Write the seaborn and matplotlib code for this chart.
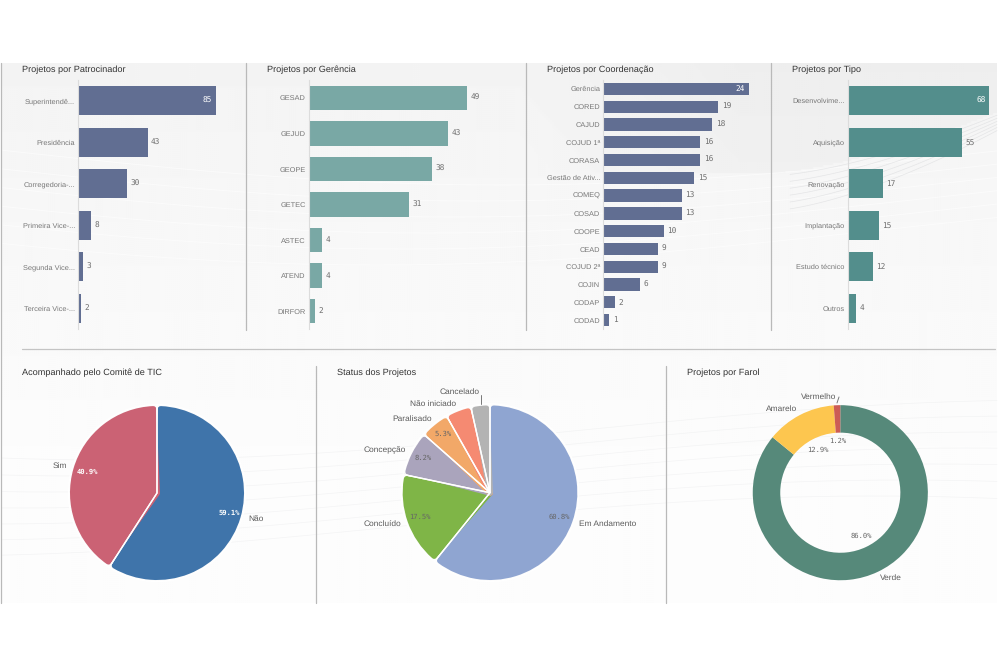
#!/usr/bin/env python3
"""Painel de projetos: barras por patrocinador/gerencia/coordenacao/tipo e pizzas de status."""

import numpy as np
import matplotlib.pyplot as plt
from matplotlib.patches import Wedge
import seaborn as sns

sns.set_theme(style="white")
plt.rcParams['font.family'] = ['Liberation Sans', 'DejaVu Sans']
plt.rcParams['text.hinting'] = 'none'

W, H = 1000, 667

patroc_cats = ['Superintendê...', 'Presidência', 'Corregedoria-...', 'Primeira Vice-...', 'Segunda Vice...', 'Terceira Vice-...']
patroc_vals = [85, 43, 30, 8, 3, 2]
geren_cats = ['GESAD', 'GEJUD', 'GEOPE', 'GETEC', 'ASTEC', 'ATEND', 'DIRFOR']
geren_vals = [49, 43, 38, 31, 4, 4, 2]
coord_cats = ['Gerência', 'CORED', 'CAJUD', 'COJUD 1ª', 'CORASA', 'Gestão de Ativ...', 'COMEQ',
              'COSAD', 'COOPE', 'CEAD', 'COJUD 2ª', 'COJIN', 'CODAP', 'CODAD']
coord_vals = [24, 19, 18, 16, 16, 15, 13, 13, 10, 9, 9, 6, 2, 1]
tipo_cats = ['Desenvolvime...', 'Aquisição', 'Renovação', 'Implantação', 'Estudo técnico', 'Outros']
tipo_vals = [68, 55, 17, 15, 12, 4]

comite_vals = [59.1, 40.9]
comite_colors = ['#3f74aa', '#cb6274']
status_vals = [60.8, 17.5, 8.2, 5.3, 4.7, 3.5]
status_colors = ['#8fa5d1', '#7fb547', '#aaa4bc', '#f2a868', '#f58a72', '#b3b3b3']
farol_vals = [86.0, 12.9, 1.2]
farol_colors = ['#56897a', '#fdc64f', '#cc5c55']


def rect(x0, y0, x1, y1):
    """Retangulo em pixels (origem no topo) para coordenadas da figura."""
    return [x0 / W, 1 - y1 / H, (x1 - x0) / W, (y1 - y0) / H]


def plot_bars(fig, cats, vals, color, x0, x1, inside=True):
    ax = fig.add_axes(rect(x0, 80, x1, 329))
    ax.patch.set_alpha(0)
    sns.barplot(y=cats, x=vals, color=color, saturation=1, width=0.69, orient='h', linewidth=0, ax=ax)
    ax.set_xlim(0, max(vals))
    ax.set_ylim(len(vals) - 0.5, -0.5)
    ax.set_xlabel('')
    ax.set_ylabel('')
    ax.set_xticks([])
    ax.tick_params(axis='y', length=0, pad=2.2, labelsize=5.3, labelcolor='#777777')
    sns.despine(ax=ax, bottom=True)
    ax.spines['left'].set_color('#dcdcdc')
    ax.spines['left'].set_linewidth(0.8)
    labels = ax.bar_label(ax.containers[0], labels=[str(v) for v in vals], padding=2.5,
                          fontsize=5.6, color='#707070', family='DejaVu Sans Mono')
    if inside:
        # o maior valor fica dentro da barra
        labels[0].set_color('white')
        labels[0].set_ha('right')
        labels[0].xyann = (-2.5, 0)
    return ax


def plot_pie(fig, vals, colors, cx, cy, r):
    """Pizza com cantos externos arredondados."""
    ax = fig.add_axes(rect(cx - r - 2, cy - r - 2, cx + r + 2, cy + r + 2))
    ax.patch.set_alpha(0)
    wedges, _ = ax.pie(vals, colors=colors, startangle=90, counterclock=False, radius=r)
    ax.set_xlim(-r - 2, r + 2)
    ax.set_ylim(-r - 2, r + 2)
    c = 3.0
    for w in wedges:
        t1, t2 = w.theta1, w.theta2
        d = np.degrees((c + 0.8) / r)
        clip = Wedge((0, 0), r, t1, t2, transform=ax.transData)
        w.set_radius(r - c)
        w.set_theta1(t1 + d)
        w.set_theta2(t2 - d)
        w.set_edgecolor(w.get_facecolor())
        w.set_linewidth(2 * c * 0.72)
        w.set_joinstyle('round')
        w.set_clip_path(clip)
        ax.add_patch(Wedge((0, 0), r + 1.5, t1, t2, fc='none', ec='white', lw=1.0))
    return ax


fig = plt.figure(figsize=(W / 100, H / 100), dpi=100)

# fundo cinza claro com as ondas suaves do painel
bg = fig.add_axes([0, 0, 1, 1], zorder=-5)
gx, gy = np.meshgrid(np.arange(2, 997, 2.0), np.arange(63, 603, 2.0))
shade = 0.955 + 0.035 * np.clip((gy - 63) / 400, 0, 1)
curve = 172 - 62 * (np.clip(gx - 770, 0, None) / 230) ** 1.5
fade = np.clip((gx - 520) / 220, 0, 1)
shade = shade - 0.022 * fade * (gy < curve)
bg.imshow(shade, extent=[2, 997, 603, 63], cmap='gray', vmin=0, vmax=1, aspect='auto', zorder=0)
bx = np.linspace(2, 997, 200)
for k in range(6):
    bg.plot(bx, 150 + k * 16 + 35 * np.sin((bx + k * 25) / 320), color='white', lw=0.7, alpha=0.55, zorder=2)
for k in range(7):
    bg.plot(bx, 430 + k * 16 + 30 * np.sin((bx + k * 30) / 300 + 1.2), color='#dfe0e2', lw=0.5, alpha=0.3, zorder=2)
fx = np.linspace(790, 997, 60)
for k in range(6):
    bg.plot(fx, 176 + k * 7 - (62 + k * 4) * ((fx - 770) / 230) ** 1.5, color='#d9dadc', lw=0.5, alpha=0.6, zorder=2)
bg.set_xlim(0, W)
bg.set_ylim(H, 0)
bg.axis('off')

plot_bars(fig, patroc_cats, patroc_vals, '#616e92', 78, 215.5)
plot_bars(fig, geren_cats, geren_vals, '#79a8a5', 309, 467, inside=False)
plot_bars(fig, coord_cats, coord_vals, '#616e92', 603.3, 748.7)
plot_bars(fig, tipo_cats, tipo_vals, '#538e8c', 847.7, 989)

plot_pie(fig, comite_vals, comite_colors, 157, 493, 87)
plot_pie(fig, status_vals, status_colors, 490, 492.7, 87.3)

ax_farol = fig.add_axes(rect(751, 403.2, 929.6, 582.2))
ax_farol.patch.set_alpha(0)
ax_farol.pie(farol_vals, colors=farol_colors, startangle=90, counterclock=False, radius=1,
             wedgeprops={'width': 0.314, 'linewidth': 0})
ax_farol.set_xlim(-1.02, 1.02)
ax_farol.set_ylim(-1.02, 1.02)

# camada de textos e divisores em pixels
top = fig.add_axes([0, 0, 1, 1], zorder=5)
top.set_xlim(0, W)
top.set_ylim(H, 0)
top.axis('off')

line_color = '#b9b9b9'
for x, y0, y1 in [(246, 63, 330), (526, 63, 330), (771, 63, 330), (1.2, 63, 603),
                  (315.5, 366, 603), (665.5, 366, 603)]:
    top.plot([x, x], [y0, y1], color=line_color, lw=0.9)
top.plot([22, 995], [348.5, 348.5], color='#c4c4c4', lw=0.9)

for x, y, s in [(22, 69.5, 'Projetos por Patrocinador'), (267, 69.5, 'Projetos por Gerência'),
                (547, 69.5, 'Projetos por Coordenação'), (792, 69.5, 'Projetos por Tipo'),
                (22, 372.5, 'Acompanhado pelo Comitê de TIC'), (337, 372.5, 'Status dos Projetos'),
                (687, 372.5, 'Projetos por Farol')]:
    top.text(x, y, s, fontsize=6.6, color='#333333', ha='left', va='center')

pie_labels = [(60, 466, 'Sim'), (256, 519, 'Não'),
              (460, 392, 'Cancelado'), (433, 404, 'Não iniciado'), (412, 419, 'Paralisado'),
              (385, 450, 'Concepção'), (382, 524, 'Concluído'), (608, 524, 'Em Andamento'),
              (819, 397, 'Vermelho'), (782, 409, 'Amarelo'), (891, 578, 'Verde')]
for x, y, s in pie_labels:
    top.text(x, y, s, fontsize=6.0, color='#5c5c5c', ha='center', va='center')

pct_labels = [(87, 472, '40.9%', 'white', 'bold'), (229, 513, '59.1%', 'white', 'bold'),
              (443, 434, '5.3%', '#666666', 'normal'), (423, 458, '8.2%', '#666666', 'normal'),
              (420, 517, '17.5%', '#666666', 'normal'), (559, 517, '60.8%', '#666666', 'normal'),
              (838, 441, '1.2%', '#666666', 'normal'), (818, 450, '12.9%', '#666666', 'normal'),
              (861, 536, '86.0%', '#666666', 'normal')]
for x, y, s, col, weight in pct_labels:
    top.text(x, y, s, fontsize=5.1, color=col, fontweight=weight, ha='center', va='center',
             family='DejaVu Sans Mono')

top.plot([480.7, 480.7], [395, 404], color='#777777', lw=0.7)
top.plot([839, 837], [397, 403], color='#777777', lw=0.7)

fig.savefig('out.png', dpi=100)
